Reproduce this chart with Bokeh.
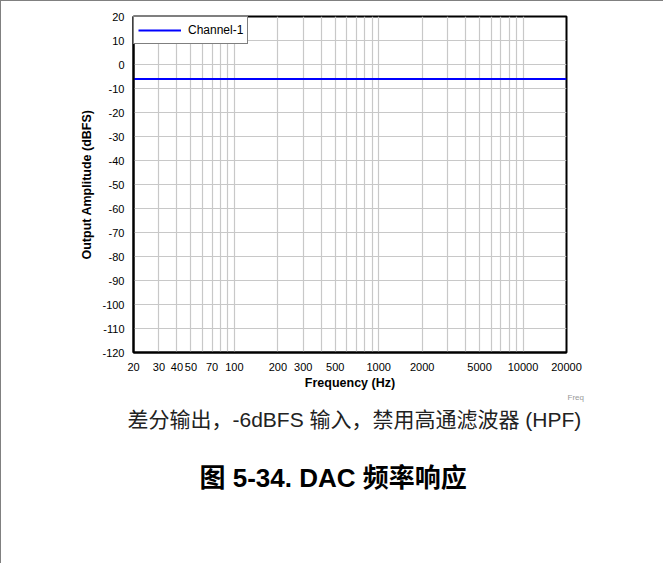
from bokeh.plotting import figure
from bokeh.models import FixedTicker, PrintfTickFormatter, Title
from bokeh.embed import file_html
from bokeh.resources import INLINE

# ---- data ----
freq_hz = [20, 25, 31.5, 40, 50, 63, 80, 100, 125, 160, 200, 250, 315, 400, 500, 630,
           800, 1000, 1250, 1600, 2000, 2500, 3150, 4000, 5000, 6300, 8000, 10000,
           12500, 16000, 20000]
channel1_dbfs = [-6.0, -6.0, -6.0, -6.0, -6.0, -6.0, -6.0, -6.0, -6.0, -6.0, -6.0, -6.0,
                 -6.0, -6.0, -6.0, -6.0, -6.0, -6.0, -6.0, -6.0, -6.0, -6.0, -6.0, -6.0,
                 -6.0, -6.0, -6.0, -6.0, -6.0, -6.0, -6.05]
x_tick_values = [20, 30, 40, 50, 70, 100, 200, 300, 500, 1000, 2000, 5000, 10000, 20000]
x_grid_values = [20, 30, 40, 50, 60, 70, 80, 90, 100, 200, 300, 400, 500, 600, 700, 800, 900,
                 1000, 2000, 3000, 4000, 5000, 6000, 7000, 8000, 9000, 10000, 20000]
y_tick_values = [-120, -110, -100, -90, -80, -70, -60, -50, -40, -30, -20, -10, 0, 10, 20]
series_name = "Channel-1"
x_title = "Frequency (Hz)"
y_title = "Output Amplitude (dBFS)"
caption1 = "差分输出，-6dBFS 输入，禁用高通滤波器 (HPF)"
caption2 = "图 5-34. DAC 频率响应"
corner_note = "Freq"

W, H = 663, 563
FONT = "'Liberation Sans', Arial, 'Noto Sans CJK SC', sans-serif"

p = figure(width=W, height=H, x_axis_type="log", x_range=(20, 20000), y_range=(-120, 20),
           output_backend="svg", toolbar_location=None,
           min_border_left=132, min_border_right=W - 565, min_border_top=15,
           min_border_bottom=H - 351)
p.styles = {"border-top": "1px solid #808080", "border-left": "1px solid #808080"}

p.line(freq_hz, channel1_dbfs, line_color="#0000FF", line_width=2, legend_label=series_name)

p.outline_line_color = "black"
p.outline_line_width = 2

# axes
for ax in (p.xaxis[0], p.yaxis[0]):
    ax.axis_line_color = "black"
    ax.axis_line_width = 2
    ax.major_tick_in = 0
    ax.major_tick_out = 0
    ax.minor_tick_in = 0
    ax.minor_tick_out = 0
    ax.major_label_text_font = FONT
    ax.major_label_text_font_size = "11px"
    ax.major_label_text_color = "black"
    ax.axis_label_text_font = FONT
    ax.axis_label_text_font_size = "12.5px"
    ax.axis_label_text_font_style = "bold"
    ax.axis_label_text_color = "black"

p.xaxis.ticker = FixedTicker(ticks=x_tick_values)
p.xaxis.formatter = PrintfTickFormatter(format="%d")
p.xaxis.major_label_standoff = 10
p.xaxis.axis_label = x_title
p.xaxis.axis_label_standoff = 2

p.yaxis.ticker = FixedTicker(ticks=y_tick_values)
p.yaxis.formatter = PrintfTickFormatter(format="%d")
p.yaxis.major_label_standoff = 9
p.yaxis.axis_label = y_title
p.yaxis.axis_label_standoff = 5

p.xgrid.ticker = FixedTicker(ticks=x_grid_values)
p.ygrid.ticker = FixedTicker(ticks=y_tick_values)
for g in (p.xgrid[0], p.ygrid[0]):
    g.grid_line_color = "#c8c8c8"
    g.grid_line_width = 1.2

leg = p.legend[0]
leg.location = "top_left"
leg.margin = 0
leg.padding = 4
leg.spacing = 0
leg.glyph_width = 43
leg.glyph_height = 18
leg.label_height = 18
leg.label_standoff = 7
leg.label_text_font = FONT
leg.label_text_font_size = "12px"
leg.label_text_color = "black"
leg.border_line_color = "black"
leg.border_line_width = 1.5
leg.background_fill_alpha = 1

# captions below the chart
t_note = Title(text=corner_note, align="left", offset=434, standoff=-19,
               text_font=FONT, text_font_size="8px", text_color="#999999",
               text_font_style="normal")
t1 = Title(text=caption1, align="left", offset=-6, standoff=26,
           text_font=FONT, text_font_size="21px", text_color="#222222",
           text_font_style="normal")
t2 = Title(text=caption2, align="left", offset=66, standoff=34,
           text_font=FONT, text_font_size="26px", text_color="black",
           text_font_style="bold")
p.add_layout(t_note, "below")
p.add_layout(t1, "below")
p.add_layout(t2, "below")

open("out.html", "w").write(file_html(p, INLINE))
